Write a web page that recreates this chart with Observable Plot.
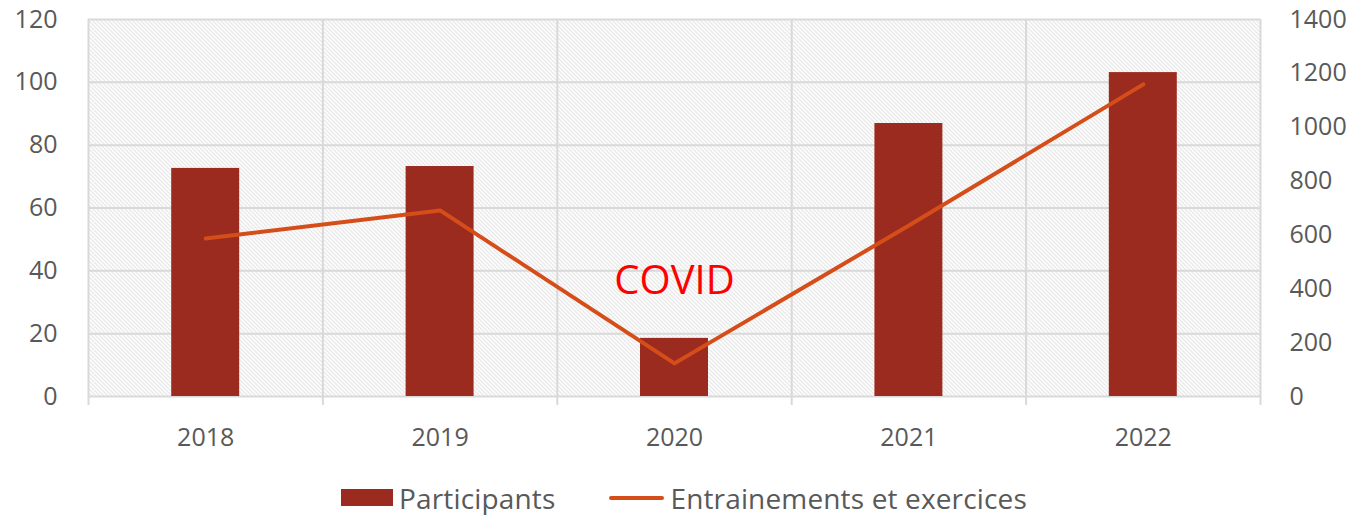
<!DOCTYPE html>
<html>
<head>
<meta charset="utf-8">
<script src="https://cdn.jsdelivr.net/npm/d3@7"></script>
<script src="https://cdn.jsdelivr.net/npm/@observablehq/plot@0.6"></script>
<style>
  html, body { margin: 0; padding: 0; background: #fff; }
  body { width: 1362px; height: 515px; overflow: hidden; font-family: "Open Sans", sans-serif; }
  #legend { display: flex; justify-content: center; align-items: center; height: 55px; margin-top: 10px; font-size: 28px; color: #595959; letter-spacing: 0.15px; }
  .item { display: flex; align-items: center; }
  .sw-bar { width: 52px; height: 17px; background: #9b2b1f; margin-right: 6px; }
  .sw-line { width: 55px; height: 4px; background: #d54e1a; border-radius: 2px; margin-right: 6px; }
</style>
</head>
<body>
<div id="chart"></div>
<div id="legend">
  <div class="item" style="margin-left:6px"><div class="sw-bar"></div><span>Participants</span></div>
  <div class="item" style="margin-left:54px"><div class="sw-line"></div><span>Entrainements et exercices</span></div>
</div>
<script>
// ---- data ----
const years = ["2018", "2019", "2020", "2021", "2022"];
const participants = [72.6, 73.2, 18.5, 86.9, 103.1];
const entrainements = [587, 691, 123, 635, 1159];
const leftTicks = [0, 20, 40, 60, 80, 100, 120];
const rightTicks = [0, 200, 400, 600, 800, 1000, 1200, 1400];
const annotationText = ["COVID"];
const annotationYear = ["2020"];
const annotationLevel = [32.5]; // in left-axis units

const LEFT_MAX = 120, RIGHT_MAX = 1400;
const toLeft = v => v * LEFT_MAX / RIGHT_MAX;
const BAR_W = 0.29;

const rows = years.map((y, i) => ({year: y, i, center: i + 0.5, participants: participants[i], ent: entrainements[i]}));
const bounds = d3.range(0, years.length + 1);
const ann = annotationText.map((t, k) => ({text: t, center: years.indexOf(annotationYear[k]) + 0.5, level: annotationLevel[k]}));

const grid = "#d9d9d9";
const textColor = "#595959";
const FS = 25;

const plot = Plot.plot({
  width: 1362,
  height: 460,
  marginLeft: 88,
  marginRight: 102,
  marginTop: 19,
  marginBottom: 64,
  style: {fontFamily: "'Open Sans', sans-serif", fontSize: FS + "px", color: textColor, background: "#fff"},
  x: {type: "linear", domain: [0, years.length], label: null},
  y: {domain: [0, LEFT_MAX], label: null},
  marks: [
    Plot.frame({fill: "url(#hatch)", stroke: null}),
    Plot.ruleY(leftTicks, {stroke: grid, strokeWidth: 2}),
    Plot.ruleX(bounds, {stroke: grid, strokeWidth: 2}),
    Plot.axisX(bounds, {tickSize: 9, tickFormat: () => "", stroke: grid, strokeWidth: 2, label: null}),
    Plot.axisX(rows.map(d => d.center), {tickSize: 0, tickPadding: 32, tickFormat: d => years[Math.round(d - 0.5)], label: null, fill: textColor, fontSize: FS}),
    Plot.axisY(leftTicks, {anchor: "left", tickSize: 0, tickPadding: 31, label: null, fill: textColor, fontSize: FS}),
    Plot.axisY(rightTicks.map(toLeft), {anchor: "right", tickSize: 0, tickPadding: 29, label: null, fill: textColor, fontSize: FS,
      tickFormat: d => String(Math.round(d * RIGHT_MAX / LEFT_MAX))}),
    Plot.rectY(rows, {x1: d => d.center - BAR_W / 2, x2: d => d.center + BAR_W / 2, y1: 0, y2: "participants", fill: "#9b2b1f"}),
    Plot.line(rows, {x: "center", y: d => toLeft(d.ent), stroke: "#d54e1a", strokeWidth: 4, strokeLinecap: "round", strokeLinejoin: "round"}),
    Plot.text(ann, {x: "center", y: "level", text: "text", fill: "#ff0000", fontSize: 40, lineAnchor: "bottom", textAnchor: "middle"})
  ]
});

// hatch pattern definition
const svg = d3.select(plot);
const defs = svg.insert("defs", ":first-child");
const pat = defs.append("pattern").attr("id", "hatch").attr("patternUnits", "userSpaceOnUse")
  .attr("width", 4).attr("height", 4);
pat.append("rect").attr("width", 4).attr("height", 4).attr("fill", "#ffffff");
pat.append("path").attr("d", "M0,0 L4,4 M-1,3 L1,5 M3,-1 L5,1")
  .attr("stroke", "#d3d3d3").attr("stroke-width", 1);

document.getElementById("chart").appendChild(plot);
</script>
</body>
</html>
